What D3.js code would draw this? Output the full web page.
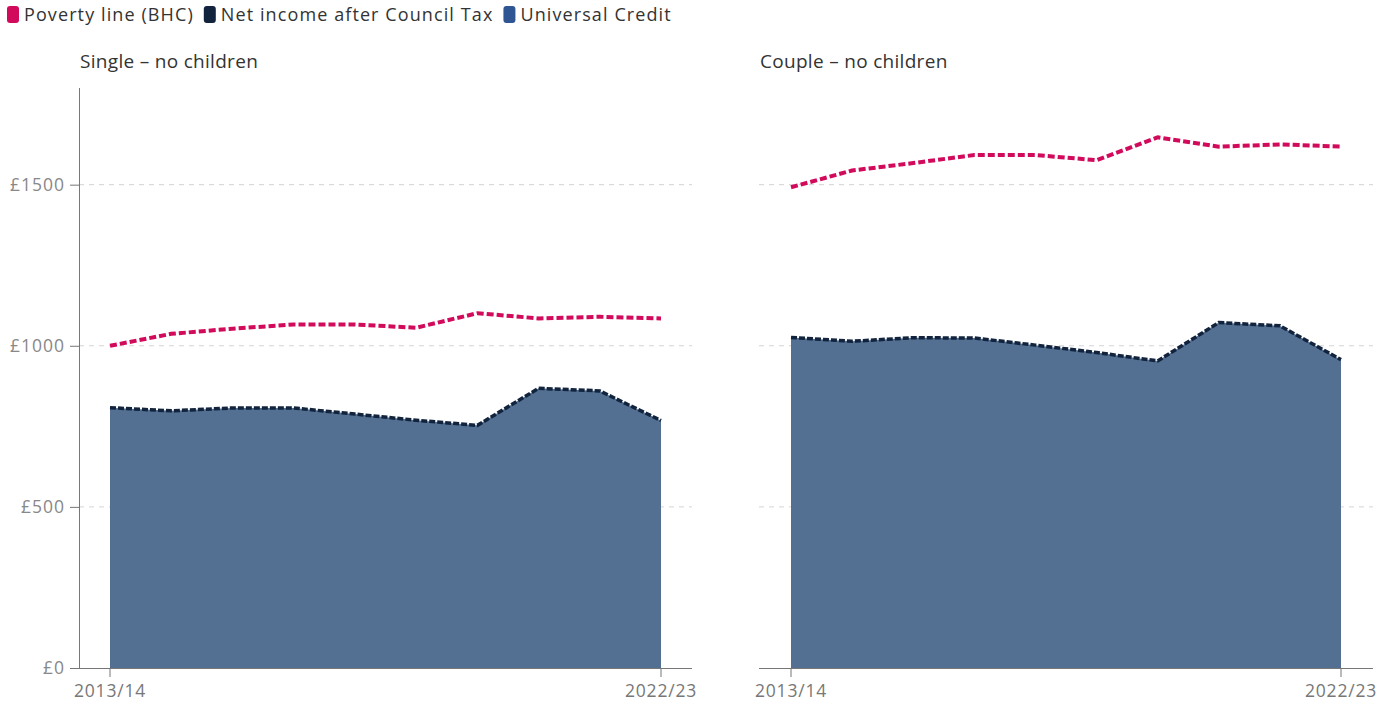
<!DOCTYPE html>
<html><head><meta charset="utf-8">
<script src="https://cdn.jsdelivr.net/npm/d3@7"></script>
<style>
body{margin:0;background:#fff;font-family:"Open Sans",Lato,sans-serif;}
</style></head>
<body><svg id="c" width="1396" height="704"></svg>
<script>
const years = ["2013/14","2014/15","2015/16","2016/17","2017/18","2018/19","2019/20","2020/21","2021/22","2022/23"];
const xTickLabels = ["2013/14","2022/23"];
const yTicks = [0,500,1000,1500];
const panelTitles = ["Single – no children","Couple – no children"];
const legendLabels = ["Poverty line (BHC)","Net income after Council Tax","Universal Credit"];
const singlePoverty = [1000,1037,1053,1066,1066,1056,1101,1085,1090,1085];
const singleNet = [808,798,807,807,788,769,753,868,860,768];
const singleUC = [808,798,807,807,788,769,753,868,860,768];
const couplePoverty = [1492,1544,1567,1592,1592,1576,1647,1618,1625,1618];
const coupleNet = [1026,1014,1025,1024,1002,979,953,1072,1062,957];
const coupleUC = [1026,1014,1025,1024,1002,979,953,1072,1062,957];

const colors = {poverty:"#d20a5b", net:"#11233d", uc:"#2f5592", area:"#536f91"};
const svg = d3.select("#c");

// legend
const leg = svg.append("g");
let lx = 7;
const legColors = [colors.poverty, colors.net, colors.uc];
legendLabels.forEach((t,i)=>{
  leg.append("rect").attr("x",lx).attr("y",6).attr("width",12).attr("height",17).attr("rx",3).attr("fill",legColors[i]);
  const tx = leg.append("text").attr("x",lx+17).attr("y",21).attr("font-size",18).attr("letter-spacing",1.1).attr("fill","#333").text(t);
  lx += 17 + tx.node().getComputedTextLength() + 10;
});

const y = d3.scaleLinear().domain([0,1800]).range([668,88]);

const panels = [
  {title:panelTitles[0], x0:79, x1:692, first:110, last:661, pov:singlePoverty, net:singleNet, uc:singleUC, yaxis:true},
  {title:panelTitles[1], x0:759, x1:1373, first:791, last:1341, pov:couplePoverty, net:coupleNet, uc:coupleUC, yaxis:false}
];

panels.forEach(p=>{
  const g = svg.append("g");
  const x = d3.scalePoint().domain(years).range([p.first,p.last]);
  g.append("text").attr("x",p.x0+1).attr("y",68).attr("font-size",19).attr("letter-spacing",0.3).attr("fill","#333").text(p.title);
  // gridlines
  g.selectAll(".grid").data(yTicks.filter(d=>d>0)).join("line")
    .attr("x1",p.x0).attr("x2",p.x1).attr("y1",d=>y(d)).attr("y2",d=>y(d))
    .attr("stroke","#d4d4d4").attr("stroke-dasharray","5,5").attr("stroke-width",1);
  // area
  const area = d3.area().x((d,i)=>x(years[i])).y0(y(0)).y1(d=>y(d));
  g.append("path").datum(p.uc).attr("d",area).attr("fill",colors.area);
  // net line
  const line = d3.line().x((d,i)=>x(years[i])).y(d=>y(d));
  g.append("path").datum(p.net).attr("d",line).attr("fill","none").attr("stroke",colors.net)
    .attr("stroke-width",3.5).attr("stroke-dasharray","6,2");
  g.append("path").datum(p.pov).attr("d",line).attr("fill","none").attr("stroke",colors.poverty)
    .attr("stroke-width",4).attr("stroke-dasharray","7,3");
  // x axis
  g.append("line").attr("x1",p.x0).attr("x2",p.x1).attr("y1",668.5).attr("y2",668.5).attr("stroke","#777").attr("stroke-width",1);
  xTickLabels.forEach(t=>{
    g.append("line").attr("x1",x(t)).attr("x2",x(t)).attr("y1",668).attr("y2",677).attr("stroke","#777");
    g.append("text").attr("x",x(t)).attr("y",697).attr("text-anchor","middle").attr("font-size",17.5).attr("letter-spacing",0.8).attr("fill","#777").text(t);
  });
  if(p.yaxis){
    g.append("line").attr("x1",p.x0+0.5).attr("x2",p.x0+0.5).attr("y1",88).attr("y2",668).attr("stroke","#777");
    yTicks.forEach(v=>{
      g.append("line").attr("x1",p.x0-9).attr("x2",p.x0).attr("y1",y(v)+0.5).attr("y2",y(v)+0.5).attr("stroke","#777");
      g.append("text").attr("x",p.x0-14).attr("y",y(v)+6).attr("text-anchor","end").attr("font-size",17.5).attr("letter-spacing",1).attr("fill","#888").text("£"+v);
    });
  }
});
</script></body></html>
